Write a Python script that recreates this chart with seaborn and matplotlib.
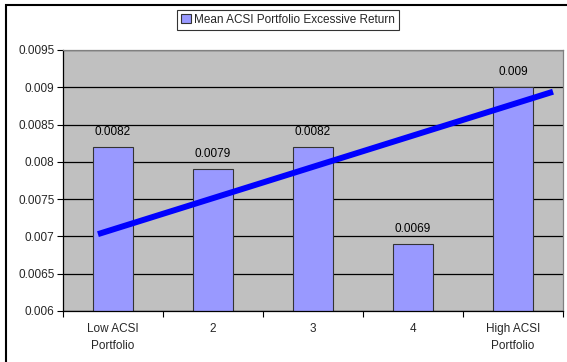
import matplotlib
matplotlib.use("Agg")
import matplotlib.pyplot as plt
import seaborn as sns
import pandas as pd
from matplotlib.patches import Rectangle

# Données du graphique
categories = ["Low ACSI\nPortfolio", "2", "3", "4", "High ACSI\nPortfolio"]
mean_returns = [0.0082, 0.0079, 0.0082, 0.0069, 0.009]
value_labels = ["0.0082", "0.0079", "0.0082", "0.0069", "0.009"]
series_name = "Mean ACSI Portfolio Excessive Return"

# Ligne de tendance (extrémités)
trend_x = [-0.15, 4.4]
trend_y = [0.00703, 0.00894]

y_ticks = [0.006, 0.0065, 0.007, 0.0075, 0.008, 0.0085, 0.009, 0.0095]
y_tick_labels = ["0.006", "0.0065", "0.007", "0.0075", "0.008", "0.0085", "0.009", "0.0095"]

df = pd.DataFrame({"cat": categories, "val": mean_returns})

sns.set_style("white")
plt.rcParams["font.family"] = ["Liberation Sans", "DejaVu Sans"]

fig = plt.figure(figsize=(5.67, 3.62), dpi=100)
ax = fig.add_axes([0.111, 0.141, 0.882, 0.721])
ax.set_facecolor("#C0C0C0")

sns.barplot(data=df, x="cat", y="val", color="#9999FF", saturation=1,
            width=0.4, edgecolor="#333333", linewidth=0.8, ax=ax,
            label=series_name, zorder=2)
handles, labels = ax.get_legend_handles_labels()
if ax.get_legend() is not None:
    ax.get_legend().remove()

ax.plot(trend_x, trend_y, color="#0000FF", linewidth=4.3, solid_capstyle="butt", zorder=3)

for i, (v, lab) in enumerate(zip(mean_returns, value_labels)):
    ax.text(i, v + 0.00012, lab, ha="center", va="bottom", fontsize=8.5, color="#000000", zorder=4)

ax.set_ylim(0.006, 0.0095)
ax.set_xlim(-0.5, 4.5)
ax.set_yticks(y_ticks)
ax.set_yticklabels(y_tick_labels, fontsize=8.5)
ax.yaxis.grid(True, color="#000000", linewidth=0.9)
ax.set_axisbelow(True)

# ticks aux limites des catégories, étiquettes au centre
ax.set_xticks([-0.5, 0.5, 1.5, 2.5, 3.5, 4.5])
ax.set_xticklabels([])
ax.set_xticks(range(len(categories)), minor=True)
ax.set_xticklabels(categories, minor=True, fontsize=8.5, linespacing=1.5)
ax.tick_params(axis="x", which="major", direction="out", length=4, width=0.8, color="#000000", bottom=True)
ax.tick_params(axis="x", which="minor", length=0, pad=9)
ax.tick_params(axis="y", direction="out", length=4, width=0.8, color="#000000", left=True, pad=2)

ax.set_xlabel("")
ax.set_ylabel("")

for side in ["left", "bottom"]:
    ax.spines[side].set_color("#000000")
    ax.spines[side].set_linewidth(0.9)
for side in ["top", "right"]:
    ax.spines[side].set_visible(True)
    ax.spines[side].set_color("#808080")
    ax.spines[side].set_linewidth(0.9)

leg = fig.legend(handles, labels, loc="center", bbox_to_anchor=(0.508, 0.945), fontsize=8.5,
                 frameon=True, fancybox=False, handlelength=0.8, handleheight=0.8,
                 handletextpad=0.3, borderpad=0.35, borderaxespad=0)
leg.get_frame().set_edgecolor("#000000")
leg.get_frame().set_linewidth(0.8)

# cadre extérieur (coupé à droite et en bas comme dans l'image d'origine)
fig.patches.append(Rectangle((0.0106, -0.1), 1.2, 1.086, transform=fig.transFigure,
                             fill=False, edgecolor="#000000", linewidth=1.5))

fig.savefig("out.png", dpi=100)
